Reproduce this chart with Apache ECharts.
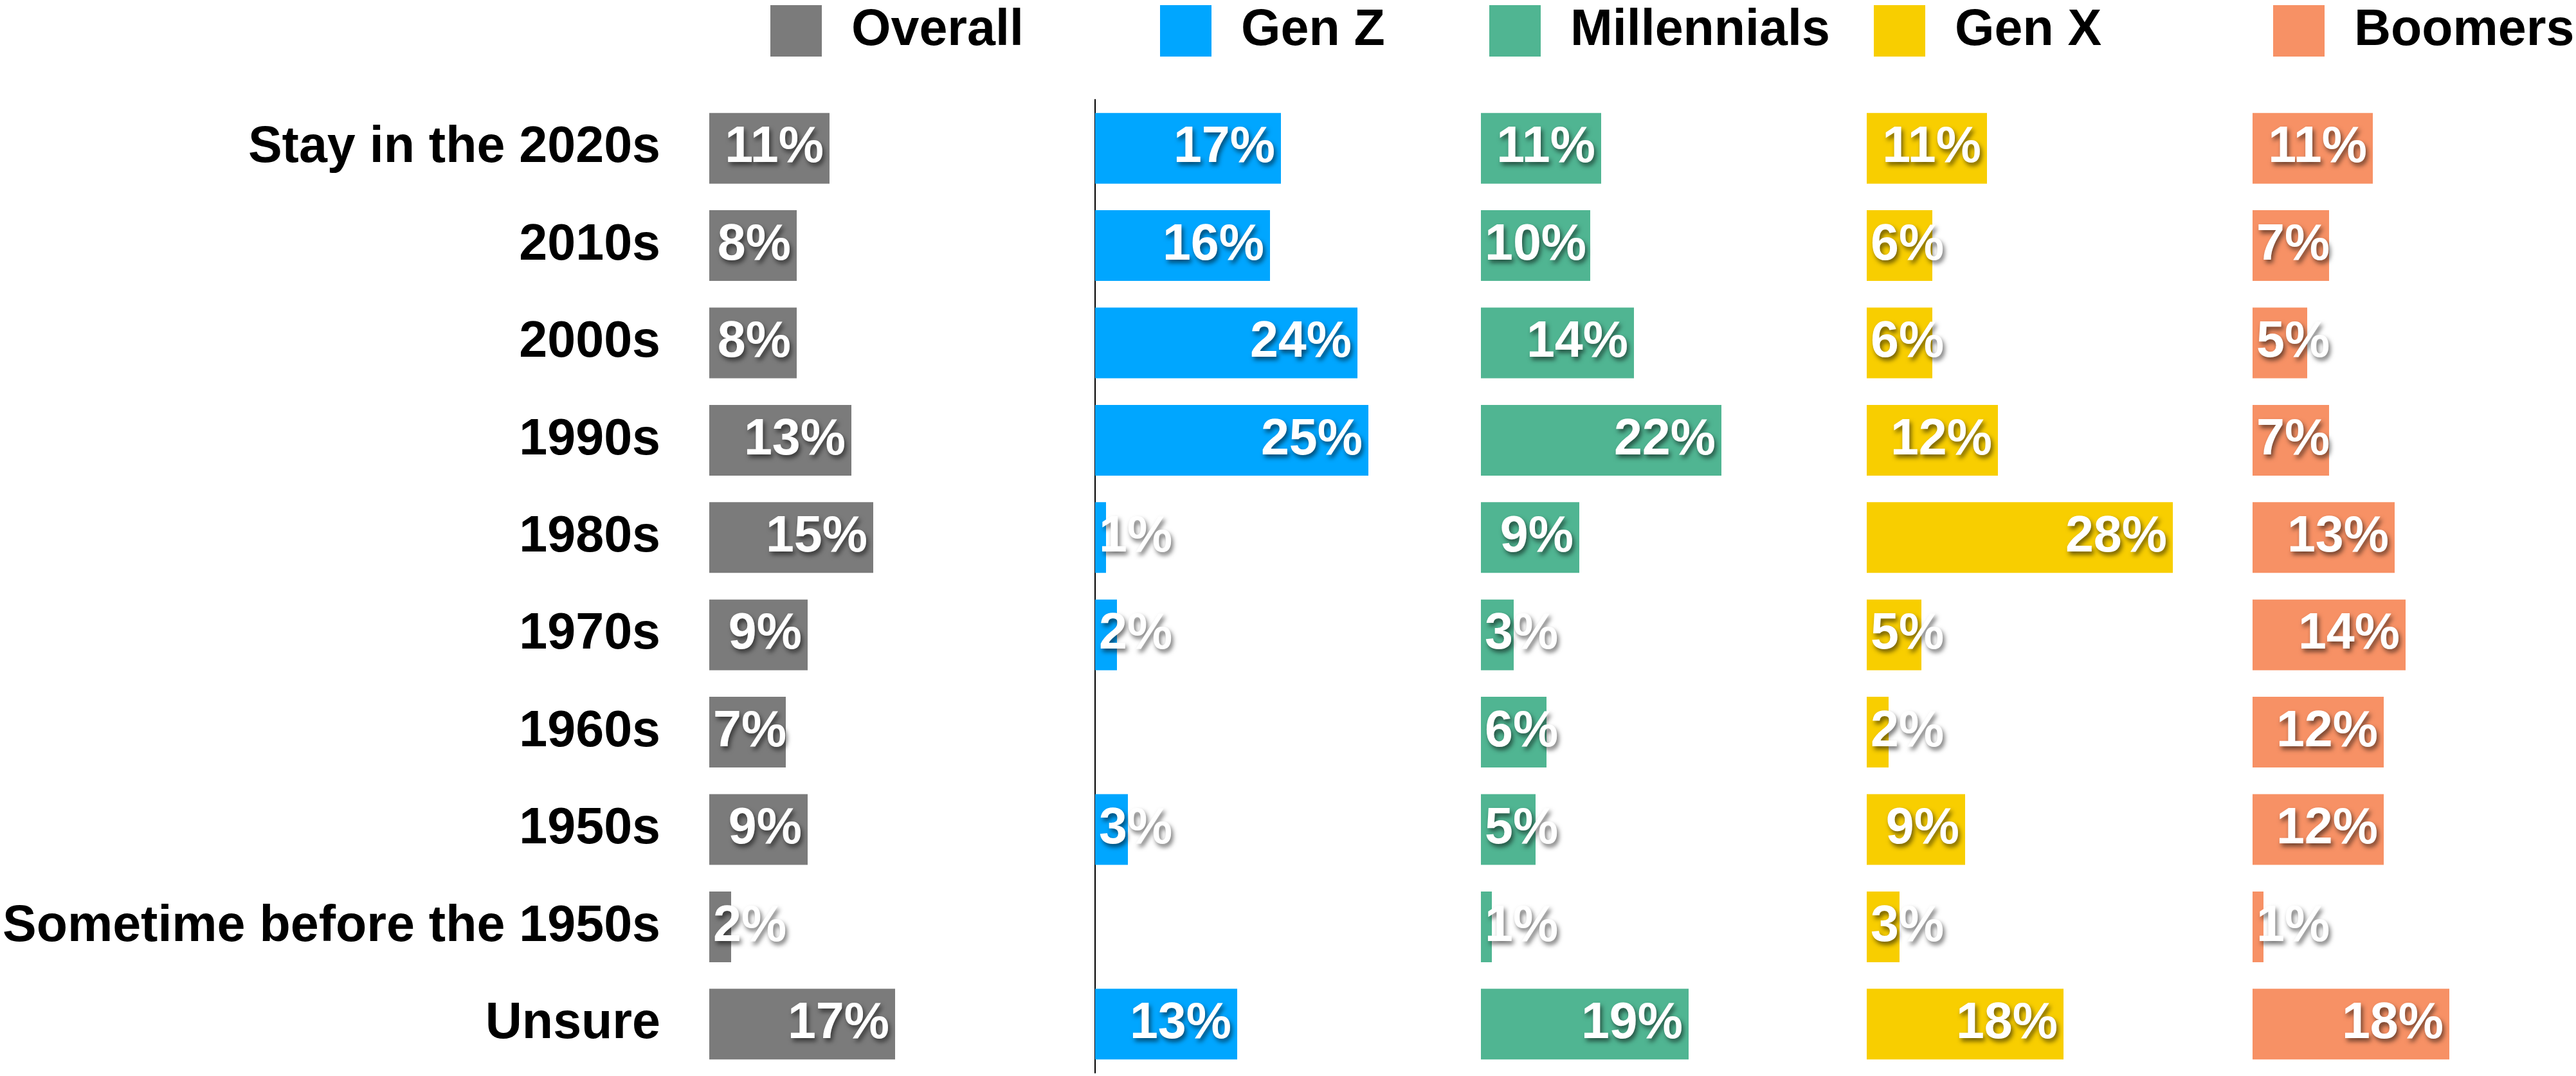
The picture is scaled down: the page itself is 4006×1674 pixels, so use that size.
<!DOCTYPE html>
<html>
<head>
<meta charset="utf-8">
<script src="https://cdn.jsdelivr.net/npm/echarts@6/dist/echarts.min.js"></script>
<style>
  html, body { margin: 0; padding: 0; background: #fff; }
  #main { width: 4006px; height: 1674px; }
</style>
</head>
<body>
<div id="main"></div>
<script>
// data
var categories = ['Stay in the 2020s', '2010s', '2000s', '1990s', '1980s', '1970s', '1960s', '1950s', 'Sometime before the 1950s', 'Unsure'];
var groups = ['Overall', 'Gen Z', 'Millennials', 'Gen X', 'Boomers'];
var overall     = [11, 8, 8, 13, 15, 9, 7, 9, 2, 17];
var genZ        = [17, 16, 24, 25, 1, 2, null, 3, null, 13];
var millennials = [11, 10, 14, 22, 9, 3, 6, 5, 1, 19];
var genX        = [11, 6, 6, 12, 28, 5, 2, 9, 3, 18];
var boomers     = [11, 7, 5, 7, 13, 14, 12, 12, 1, 18];
var values = [overall, genZ, millennials, genX, boomers];
var colors = ['#7b7b7b', '#00a6ff', '#50b592', '#f8ce00', '#f79165'];

var FONT = "'Liberation Sans', Arial, sans-serif";
var FS = 79;
var xMax = 28;
var gridW = 476;
var pxPerPct = gridW / xMax;
var gridLefts = [1103, 1703, 2303, 2903, 3503];
var legendLefts = [1198, 1804, 2316, 2914, 3535];

var ctx = document.createElement('canvas').getContext('2d');
ctx.font = 'bold ' + FS + 'px ' + FONT;

// 标签放不下就贴左边
function buildData(arr) {
    return arr.map(function (v) {
        if (v == null) return null;
        var tw = ctx.measureText(v + '%').width;
        var barPx = v * pxPerPct;
        if (tw + 9 > barPx - 6) {
            return { value: v, label: { position: 'insideLeft', distance: 6 } };
        }
        return { value: v, label: { position: 'insideRight', distance: 9 } };
    });
}

var myChart = echarts.init(document.getElementById('main'));

var grid = [], xAxis = [], yAxis = [], series = [], legend = [];
for (var i = 0; i < 5; i++) {
    grid.push({ left: gridLefts[i], width: gridW, top: 155, height: 1514 });
    xAxis.push({ type: 'value', gridIndex: i, min: 0, max: xMax, show: false });
    yAxis.push({
        type: 'category',
        gridIndex: i,
        inverse: true,
        data: categories,
        axisTick: { show: false },
        axisLine: { show: i === 1, lineStyle: { color: '#000', width: 2 } },
        axisLabel: {
            show: i === 0,
            margin: 76,
            color: '#000',
            fontFamily: FONT,
            fontWeight: 'bold',
            fontSize: FS
        },
        splitLine: { show: false }
    });
    series.push({
        name: groups[i],
        type: 'bar',
        xAxisIndex: i,
        yAxisIndex: i,
        barWidth: 110,
        itemStyle: { color: colors[i] },
        label: {
            show: true,
            formatter: '{c}%',
            color: '#fff',
            fontFamily: FONT,
            fontWeight: 'bold',
            fontSize: FS,
            textShadowColor: 'rgba(0,0,0,0.55)',
            textShadowBlur: 7,
            textShadowOffsetX: 3,
            textShadowOffsetY: 5
        },
        data: buildData(values[i])
    });
    legend.push({
        data: [groups[i]],
        left: legendLefts[i],
        top: 8,
        padding: 0,
        itemWidth: 80,
        itemHeight: 80,
        icon: 'rect',
        textStyle: {
            color: '#000',
            fontFamily: FONT,
            fontWeight: 'bold',
            fontSize: FS,
            padding: [0, 0, 0, 41]
        }
    });
}

option = {
    backgroundColor: '#fff',
    animation: false,
    legend: legend,
    grid: grid,
    xAxis: xAxis,
    yAxis: yAxis,
    series: series
};
myChart.setOption(option);
</script>
</body>
</html>
